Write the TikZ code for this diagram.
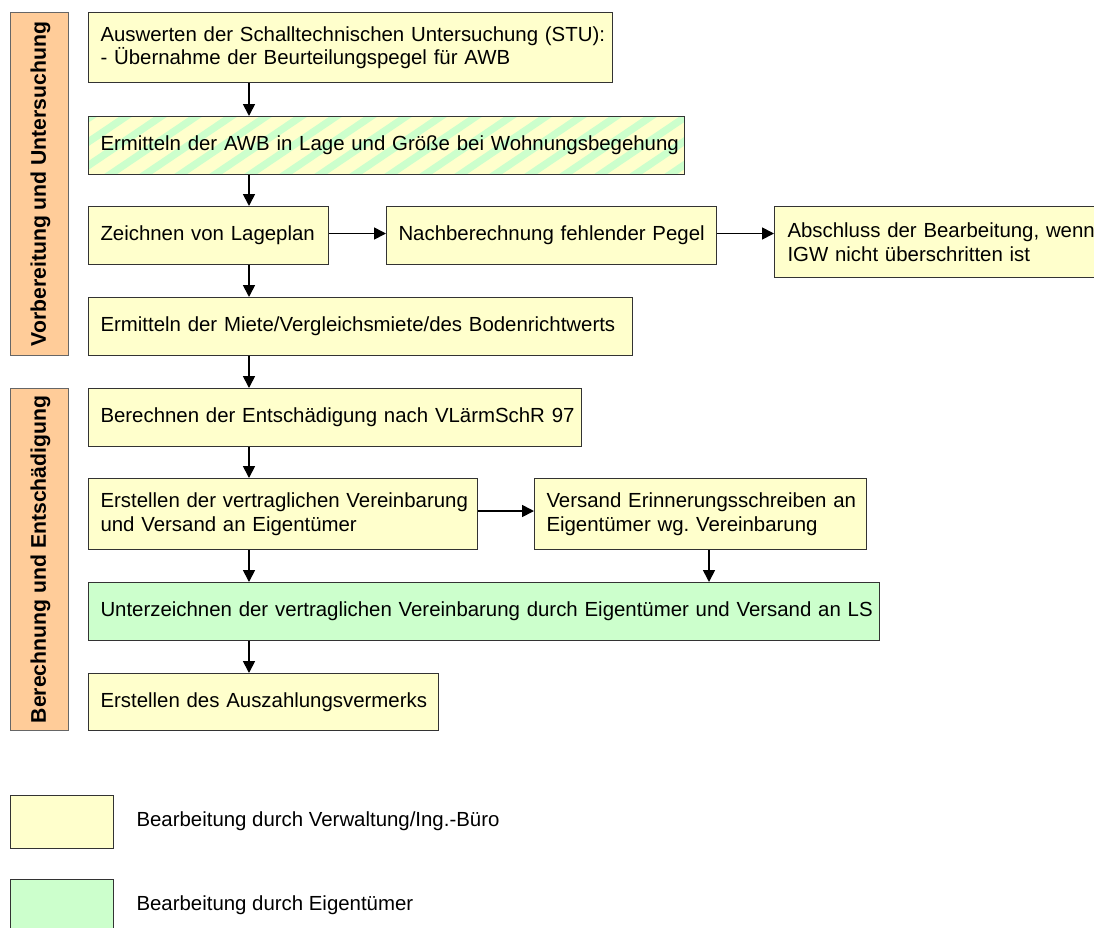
\documentclass[tikz,border=0pt]{standalone}
\usepackage{fontspec}
\setmainfont{Liberation Sans}
\frenchspacing
\usetikzlibrary{arrows.meta}
\definecolor{yfill}{HTML}{FFFFCC}
\definecolor{gfill}{HTML}{CCFFCC}
\definecolor{ofill}{HTML}{FFCC99}
\definecolor{bord}{HTML}{333333}
\tikzset{
  txt/.style={font=\fontsize{20.4pt}{23.5pt}\selectfont, text=black},
  box/.style={txt, draw=bord, line width=1pt, rectangle, anchor=north west,
    inner xsep=12pt, inner ysep=0pt, align=left},
  ybox/.style={box, fill=yfill},
  gbox/.style={box, fill=gfill},
  sbox/.style={box, fill=yfill, path picture={
      \foreach \i in {0,...,24}{
        \fill[gfill] ([xshift=\i*35pt-90pt]path picture bounding box.south west)
          -- ++(13pt,0pt) -- ++(86pt,58pt) -- ++(-13pt,0pt) -- cycle;}}},
  bar/.style={draw=black!60, line width=1pt, fill=ofill, anchor=north west, inner sep=0pt},
  bartxt/.style={txt, font=\fontsize{21.2pt}{24pt}\selectfont\bfseries, rotate=90},
  leg/.style={draw=bord, line width=1pt, anchor=north west, inner sep=0pt,
    minimum width=103pt, minimum height=53pt},
  arr/.style={line width=1.7pt, -{Triangle[length=12pt,width=12pt]}}
}
\begin{document}
\begin{tikzpicture}[x=1pt,y=-1pt]
\useasboundingbox (0,0) rectangle (1094,927);
\clip (0,0) rectangle (1094,927);
\fill[white] (0,0) rectangle (1094,927);
% phase bars
\node[bar, minimum width=58pt, minimum height=343pt] (bar1) at (10,12) {};
\node[bartxt] (bt1) at ([xshift=1pt]bar1.center) {Vorbereitung und Untersuchung};
\node[bar, minimum width=58pt, minimum height=342pt] (bar2) at (10,388) {};
\node[bartxt] (bt2) at ([xshift=1pt]bar2.center) {Berechnung und Entschädigung};
% boxes
\node[ybox, text width=500pt, minimum height=70pt] (b1) at (88,12)
  {\mbox{Auswerten der Schalltechnischen Untersuchung (STU):}\\\mbox{- Übernahme der Beurteilungspegel für AWB}};
\node[sbox, text width=572pt, minimum height=58pt] (b2) at (88,116)
  {\mbox{Ermitteln der AWB in Lage und Größe bei Wohnungsbegehung}};
\node[ybox, text width=216pt, minimum height=58pt] (b3) at (88,206)
  {\mbox{Zeichnen von Lageplan}};
\node[ybox, text width=306pt, minimum height=58pt] (b4) at (386,206)
  {\mbox{Nachberechnung fehlender Pegel}};
\node[ybox, text width=320pt, minimum height=71pt, inner xsep=13pt] (b5) at (774,206)
  {\mbox{Abschluss der Bearbeitung, wenn}\\\mbox{IGW nicht überschritten ist}};
\node[ybox, text width=520pt, minimum height=58pt] (b6) at (88,297)
  {\mbox{Ermitteln der Miete/Vergleichsmiete/des Bodenrichtwerts}};
\node[ybox, text width=469pt, minimum height=58pt] (b7) at (88,388)
  {\mbox{Berechnen der Entschädigung nach VLärmSchR 97}};
\node[ybox, text width=365pt, minimum height=71pt] (b8) at (88,478)
  {\mbox{Erstellen der vertraglichen Vereinbarung}\\\mbox{und Versand an Eigentümer}};
\node[ybox, text width=308pt, minimum height=71pt] (b9) at (534,478)
  {\mbox{Versand Erinnerungsschreiben an}\\\mbox{Eigentümer wg. Vereinbarung}};
\node[gbox, text width=767pt, minimum height=58pt] (b10) at (88,582)
  {\mbox{Unterzeichnen der vertraglichen Vereinbarung durch Eigentümer und Versand an LS}};
\node[ybox, text width=326pt, minimum height=57pt] (b11) at (88,673)
  {\mbox{Erstellen des Auszahlungsvermerks}};
% connectors
\coordinate (col) at (249,0);
\coordinate (col2) at (709,0);
\draw[arr] (b1.south -| col) -- (b2.north -| col);
\draw[arr] (b2.south -| col) -- (b3.north -| col);
\draw[arr] (b3.south -| col) -- (b6.north -| col);
\draw[arr] (b6.south -| col) -- (b7.north -| col);
\draw[arr] (b7.south -| col) -- (b8.north -| col);
\draw[arr] (b8.south -| col) -- (b10.north -| col);
\draw[arr] (b9.south -| col2) -- (b10.north -| col2);
\draw[arr] (b10.south -| col) -- (b11.north -| col);
\draw[arr] ([yshift=2pt]b3.east) -- ([yshift=2pt]b4.west);
\draw[arr] ([yshift=2pt]b4.east) -- ([yshift=2pt]b4.east -| b5.west);
\draw[arr] ([yshift=3pt]b8.east) -- ([yshift=3pt]b9.west);
% legend
\node[leg, fill=yfill] (l1) at (10,795) {};
\node[txt, anchor=west] (lt1) at (133,821.5) {Bearbeitung durch Verwaltung/Ing.-Büro};
\node[leg, fill=gfill] (l2) at (10,879) {};
\node[txt, anchor=west] (lt2) at (133,905.5) {Bearbeitung durch Eigentümer};
\end{tikzpicture}
\end{document}
